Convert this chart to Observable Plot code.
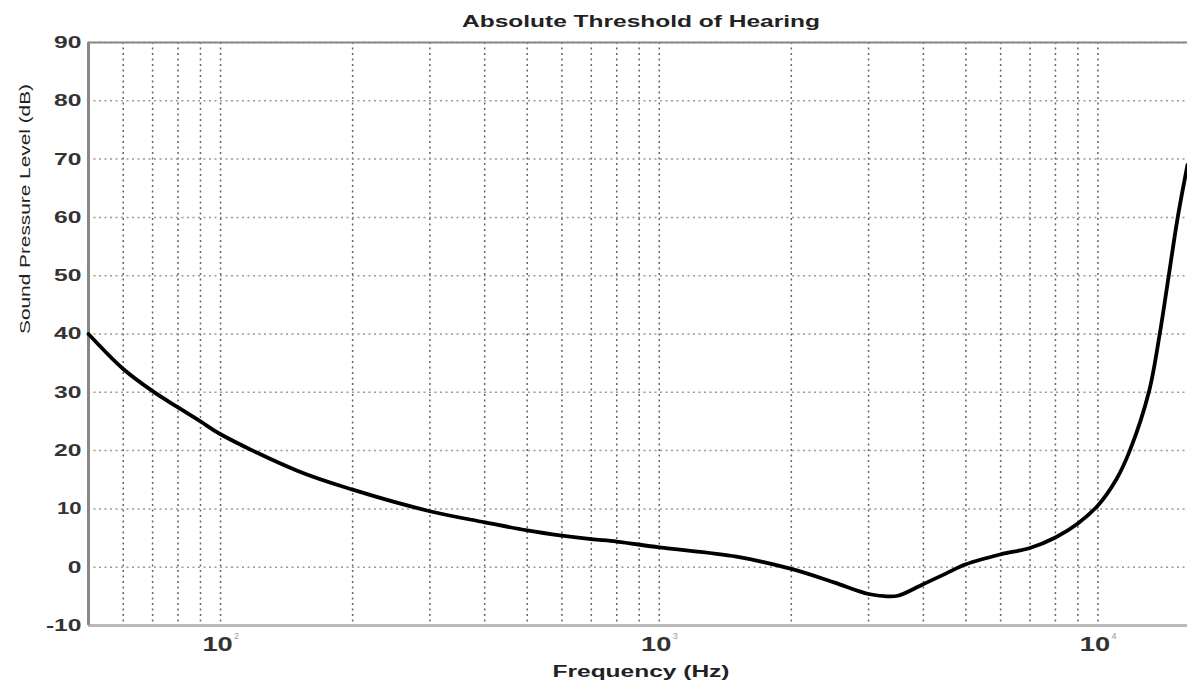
<!DOCTYPE html>
<html><head><meta charset="utf-8">
<script src="https://cdn.jsdelivr.net/npm/d3@7"></script>
<script src="https://cdn.jsdelivr.net/npm/@observablehq/plot@0.6"></script>
<style>body{margin:0;background:#fff;} svg{display:block}</style>
</head><body>
<div id="chart"></div>
<script>
const freqs  = [50, 60, 70, 80, 90, 100, 150, 200, 300, 400, 500, 600, 700, 800, 1000, 1500, 2000, 2500, 3000, 3300, 3500, 3900, 4000, 4500, 5000, 6000, 7000, 8000, 9000, 10000, 11000, 11820, 13060, 13830, 14500, 15200, 16000];
const levels = [40.0, 34.0, 30.2, 27.4, 25.0, 22.8, 16.5, 13.3, 9.6, 7.7, 6.3, 5.4, 4.8, 4.4, 3.4, 1.8, -0.3, -2.6, -4.6, -5.0, -4.9, -3.3, -2.9, -1.1, 0.5, 2.2, 3.3, 5.1, 7.5, 10.6, 15.0, 20.0, 30.0, 40.0, 50.0, 60.0, 69.0];
const yTicks = [-10, 0, 10, 20, 30, 40, 50, 60, 70, 80, 90];
const xMajor = [100, 1000, 10000];
const xMajorLabels = ["10", "10", "10"];
const xExponents = ["2", "3", "4"];
const xGrid = [60, 70, 80, 90, 100, 200, 300, 400, 500, 600, 700, 800, 900, 1000, 2000, 3000, 4000, 5000, 6000, 7000, 8000, 9000, 10000];
const titleText = "Absolute Threshold of Hearing";
const xLabelText = "Frequency (Hz)";
const yLabelText = "Sound Pressure Level (dB)";

const data = freqs.map((f, i) => ({f, db: levels[i]}));
const font = "'Liberation Sans', Arial, Helvetica, sans-serif";

const plot = Plot.plot({
  width: 1187, height: 683,
  marginLeft: 88, marginRight: 0, marginTop: 42, marginBottom: 58,
  style: {fontFamily: font, background: "#fff", overflow: "visible", color: "#222"},
  x: {type: "log", domain: [50, 16000], axis: null},
  y: {domain: [-10, 90], axis: null},
  marks: [
    Plot.ruleX(xGrid, {stroke: "#666", strokeDasharray: "2,3.5", strokeWidth: 1.5}),
    Plot.ruleY(yTicks, {stroke: "#999", strokeDasharray: "2,3.5", strokeWidth: 1.5}),
    Plot.ruleY([90], {stroke: "#888", strokeWidth: 2}),
    Plot.ruleY([-10], {stroke: "#bbb", strokeWidth: 3}),
    Plot.ruleX([50], {stroke: "#888", strokeWidth: 3}),
    Plot.line(data, {x: "f", y: "db", stroke: "#000", strokeWidth: 3.8, curve: "catmull-rom"}),
    Plot.axisY(yTicks, {tickSize: 0, tickPadding: 7, fontSize: 17, fontWeight: "bold", fill: "#333", label: null, tickFormat: d => String(d)}),
    Plot.text(xMajor, {x: d => d, text: (d, i) => xMajorLabels[i], frameAnchor: "bottom", dy: 25, dx: -3, fontSize: 21, fontWeight: "bold", fill: "#333"}),
    Plot.text(xMajor, {x: d => d, text: (d, i) => xExponents[i], frameAnchor: "bottom", dy: 13, dx: 16, fontSize: 9, fill: "#999"}),
    Plot.text([titleText], {text: d => d, frameAnchor: "top", dy: -27, dx: 3, fontSize: 16, fontWeight: "bold", fill: "#222"}),
    Plot.text([xLabelText], {text: d => d, frameAnchor: "bottom", dy: 51, dx: 3, fontSize: 16, fontWeight: "bold", fill: "#222"}),
    Plot.text([yLabelText], {text: d => d, frameAnchor: "left", dx: -63, rotate: -90, fontSize: 15, fill: "#222"})
  ]
});
document.getElementById("chart").append(plot);

const targets = {};
targets[titleText] = 358;
targets[xLabelText] = 177;
targets[yLabelText] = 250;
plot.querySelectorAll("text").forEach(t => {
  const s = t.textContent;
  const L = t.getComputedTextLength();
  if (!(L > 0)) return;
  let target = null;
  if (targets[s] != null) target = targets[s];
  else if (xMajorLabels.includes(s) && t.getAttribute("font-size") !== "9") target = L * 1.3;
  else if (/^[-\u2212]?\d+$/.test(s) && L > 8) target = L * 1.45;
  if (target) {
    t.setAttribute("textLength", target);
    t.setAttribute("lengthAdjust", "spacingAndGlyphs");
  }
});
</script>
</body></html>
